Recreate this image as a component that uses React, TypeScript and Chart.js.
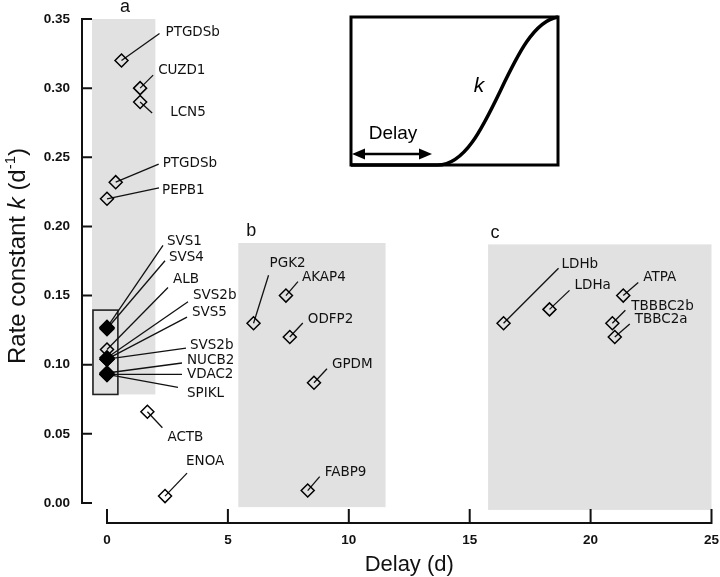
import React, { useEffect, useRef } from "react";
import { Chart, registerables } from "chart.js";

Chart.register(...registerables);

// ---------- data ----------
const genes = [
  "PTGDSb", "CUZD1", "LCN5", "PTGDSb", "PEPB1",
  "SVS1", "SVS4", "ALB", "SVS2b", "SVS5", "SVS2b", "NUCB2", "VDAC2", "SPIKL",
  "ACTB", "ENOA",
  "PGK2", "AKAP4", "ODFP2", "GPDM", "FABP9",
  "LDHb", "LDHa", "ATPA", "TBBBC2b", "TBBC2a",
];
const delays = [
  0.6, 1.37, 1.37, 0.36, 0.0,
  0, 0, 0, 0, 0, 0, 0, 0, 0,
  1.67, 2.4,
  6.06, 7.4, 7.56, 8.56, 8.3,
  16.4, 18.3, 21.35, 20.9, 21.0,
];
const rates = [
  0.32, 0.30, 0.29, 0.232, 0.22,
  0.127, 0.126, 0.111, 0.105, 0.104, 0.104, 0.094, 0.093, 0.093,
  0.066, 0.005,
  0.13, 0.15, 0.12, 0.087, 0.009,
  0.13, 0.14, 0.15, 0.13, 0.12,
];
const filled = [
  false, false, false, false, false,
  true, true, false, true, true, true, true, true, true,
  false, false,
  false, false, false, false, false,
  false, false, false, false, false,
];

// leader line end and label anchor, as pixel offsets from each point
const leaderEnds: [number, number][] = [
  [38, -27], [13, -13], [12, 11], [43, -18], [52, -11],
  [56, -82], [58, -68], [61, -62], [81, -56], [80, -42], [79, -11], [75, -10], [75, 0], [71, 13],
  [15, 16], [22, -23],
  [15, -48], [12, -14], [13, -14], [13, -14], [12, -14],
  [55, -55], [20, -19], [15, -13], [13, -13], [15, -13],
];
const labelOffsets: [number, number][] = [
  [44, -28], [18, -18], [30, 11], [47, -19], [55, -8],
  [60, -86], [62, -71], [66, -70], [86, -62], [85, -47], [83, -14], [80, -13], [80, 0], [80, 19],
  [20, 26], [21, -35],
  [16, -60], [16, -18], [18, -18], [18, -18], [17, -18],
  [58, -59], [25, -24], [20, -18], [19, -17], [20, -18],
];

const xTicks = [0, 5, 10, 15, 20, 25];
const xTickLabels = ["0", "5", "10", "15", "20", "25"];
const yTicks = [0, 0.05, 0.1, 0.15, 0.2, 0.25, 0.3, 0.35];
const yTickLabels = ["0.00", "0.05", "0.10", "0.15", "0.20", "0.25", "0.30", "0.35"];

const regionNames = ["a", "b", "c"];
const regionX: [number, number][] = [[-0.62, 2.0], [5.43, 11.52], [15.76, 25]];
const regionY: [number, number][] = [[0.0785, 0.35], [-0.003, 0.188], [-0.005, 0.187]];
const regionLabelOffsets: [number, number][] = [[33, -12], [13, -12], [7, -11]];
const clusterBoxX: [number, number] = [-0.58, 0.45];
const clusterBoxY: [number, number] = [0.0785, 0.1395];

const X_TITLE = "Delay (d)";

// ---------- drawing helpers ----------
const LABEL_FONT = '13.5px "DejaVu Sans"';
const SANS = '"Liberation Sans", Arial, sans-serif';
const TICK_FONT = `bold 13.5px ${SANS}`;

const decorPlugin = {
  id: "decor",
  beforeDatasetsDraw(chart: any) {
    const { ctx } = chart;
    const xs = chart.scales.x;
    const ys = chart.scales.y;
    ctx.save();
    ctx.fillStyle = "#e1e1e1";
    regionX.forEach((rx, i) => {
      const x0 = xs.getPixelForValue(rx[0]);
      const x1 = xs.getPixelForValue(rx[1]);
      const y0 = ys.getPixelForValue(regionY[i][1]);
      const y1 = ys.getPixelForValue(regionY[i][0]);
      ctx.fillRect(x0, y0, x1 - x0, y1 - y0);
    });
    {
      const x0 = xs.getPixelForValue(clusterBoxX[0]);
      const x1 = xs.getPixelForValue(clusterBoxX[1]);
      const y0 = ys.getPixelForValue(clusterBoxY[1]);
      const y1 = ys.getPixelForValue(clusterBoxY[0]);
      ctx.strokeStyle = "#222";
      ctx.lineWidth = 1.6;
      ctx.strokeRect(x0, y0, x1 - x0, y1 - y0);
    }
    ctx.strokeStyle = "#111";
    ctx.lineWidth = 1.3;
    genes.forEach((_, i) => {
      const px = xs.getPixelForValue(delays[i]);
      const py = ys.getPixelForValue(rates[i]);
      ctx.beginPath();
      ctx.moveTo(px, py);
      ctx.lineTo(px + leaderEnds[i][0], py + leaderEnds[i][1]);
      ctx.stroke();
    });
    ctx.restore();
  },
  afterDatasetsDraw(chart: any) {
    const { ctx } = chart;
    const xs = chart.scales.x;
    const ys = chart.scales.y;
    ctx.save();
    ctx.fillStyle = "#111";

    ctx.font = LABEL_FONT;
    ctx.textAlign = "left";
    ctx.textBaseline = "middle";
    genes.forEach((g, i) => {
      const px = xs.getPixelForValue(delays[i]);
      const py = ys.getPixelForValue(rates[i]);
      ctx.fillText(g, px + labelOffsets[i][0], py + labelOffsets[i][1]);
    });

    ctx.font = `18px ${SANS}`;
    ctx.textAlign = "center";
    regionNames.forEach((n, i) => {
      const x0 = xs.getPixelForValue(regionX[i][0]);
      const y0 = ys.getPixelForValue(regionY[i][1]);
      ctx.fillText(n, x0 + regionLabelOffsets[i][0], y0 + regionLabelOffsets[i][1]);
    });

    ctx.strokeStyle = "#111";
    ctx.lineWidth = 2;
    const axX = xs.left - 25;
    ctx.beginPath();
    ctx.moveTo(axX, ys.top);
    ctx.lineTo(axX, ys.bottom);
    yTicks.forEach((t) => {
      const py = ys.getPixelForValue(t);
      ctx.moveTo(axX - 1, py);
      ctx.lineTo(axX + 10, py);
    });
    ctx.stroke();
    const axY = ys.bottom + 20;
    ctx.beginPath();
    ctx.moveTo(xs.left, axY);
    ctx.lineTo(xs.right, axY);
    xTicks.forEach((t) => {
      const px = xs.getPixelForValue(t);
      ctx.moveTo(px, axY + 1);
      ctx.lineTo(px, axY - 14);
    });
    ctx.stroke();

    ctx.font = TICK_FONT;
    ctx.textAlign = "right";
    ctx.textBaseline = "middle";
    yTicks.forEach((t, i) => {
      ctx.fillText(yTickLabels[i], axX - 12, ys.getPixelForValue(t));
    });
    ctx.textAlign = "center";
    xTicks.forEach((t, i) => {
      ctx.fillText(xTickLabels[i], xs.getPixelForValue(t), axY + 17);
    });

    ctx.font = `22px ${SANS}`;
    ctx.textBaseline = "alphabetic";
    ctx.fillText(X_TITLE, (xs.left + xs.right) / 2, 571);

    ctx.save();
    ctx.translate(25, 256);
    ctx.rotate(-Math.PI / 2);
    const parts: [string, string, number][] = [
      ["Rate constant ", `24px ${SANS}`, 0],
      ["k", `italic 24px ${SANS}`, 0],
      [" (d", `24px ${SANS}`, 0],
      ["-1", `15px ${SANS}`, -10],
      [")", `24px ${SANS}`, 0],
    ];
    let total = 0;
    parts.forEach(([t, f]) => {
      ctx.font = f;
      total += ctx.measureText(t).width;
    });
    let cx = -total / 2;
    ctx.textAlign = "left";
    parts.forEach(([t, f, dy]) => {
      ctx.font = f;
      ctx.fillText(t, cx, dy);
      cx += ctx.measureText(t).width;
    });
    ctx.restore();

    // inset schematic
    const L = 351, R = 558, T = 17, B = 165;
    ctx.lineWidth = 3;
    ctx.strokeStyle = "#000";
    ctx.strokeRect(L, T, R - L, B - T);
    ctx.lineWidth = 3.5;
    ctx.beginPath();
    ctx.moveTo(L, B);
    ctx.lineTo(437, B);
    ctx.bezierCurveTo(490, B + 1, 508, T + 8, R, T);
    ctx.stroke();
    const ay = 154, ax0 = L + 1, ax1 = 432;
    ctx.lineWidth = 2.5;
    ctx.beginPath();
    ctx.moveTo(ax0 + 8, ay);
    ctx.lineTo(ax1 - 8, ay);
    ctx.stroke();
    ctx.fillStyle = "#000";
    ctx.beginPath();
    ctx.moveTo(ax0, ay);
    ctx.lineTo(ax0 + 13, ay - 5.5);
    ctx.lineTo(ax0 + 13, ay + 5.5);
    ctx.closePath();
    ctx.fill();
    ctx.beginPath();
    ctx.moveTo(ax1, ay);
    ctx.lineTo(ax1 - 13, ay - 5.5);
    ctx.lineTo(ax1 - 13, ay + 5.5);
    ctx.closePath();
    ctx.fill();
    ctx.font = `19px ${SANS}`;
    ctx.textAlign = "center";
    ctx.textBaseline = "middle";
    ctx.fillText("Delay", 393, 134);
    ctx.font = `italic 21px ${SANS}`;
    ctx.fillText("k", 479, 86);

    ctx.restore();
  },
};

export default function App() {
  const ref = useRef<HTMLCanvasElement | null>(null);
  useEffect(() => {
    if (!ref.current) return;
    const pts = genes.map((_, i) => ({ x: delays[i], y: rates[i] }));
    const filledPts = pts.filter((_, i) => filled[i]);
    const openPts = pts.filter((_, i) => !filled[i]);
    const chart = new Chart(ref.current, {
      type: "scatter",
      data: {
        datasets: [
          {
            data: filledPts,
            pointStyle: "rectRot",
            pointRadius: 7,
            pointBackgroundColor: "#000",
            pointBorderColor: "#000",
            pointBorderWidth: 1.5,
            clip: false as any,
          },
          {
            data: openPts,
            pointStyle: "rectRot",
            pointRadius: 6.5,
            pointBackgroundColor: "rgba(0,0,0,0)",
            pointBorderColor: "#000",
            pointBorderWidth: 1.5,
            clip: false as any,
          },
        ],
      },
      options: {
        responsive: false,
        animation: false,
        layout: { padding: { left: 107, right: 6, top: 19, bottom: 74 } },
        scales: {
          x: { type: "linear", min: 0, max: 25, display: false },
          y: { type: "linear", min: 0, max: 0.35, display: false },
        },
        plugins: { legend: { display: false }, tooltip: { enabled: false } },
      },
      plugins: [decorPlugin],
    });
    return () => chart.destroy();
  }, []);
  return (
    <div style={{ position: "fixed", left: 0, top: 0, width: 720, height: 577, background: "#fff" }}>
      <canvas ref={ref} width={720} height={577} style={{ width: 720, height: 577 }} />
    </div>
  );
}
